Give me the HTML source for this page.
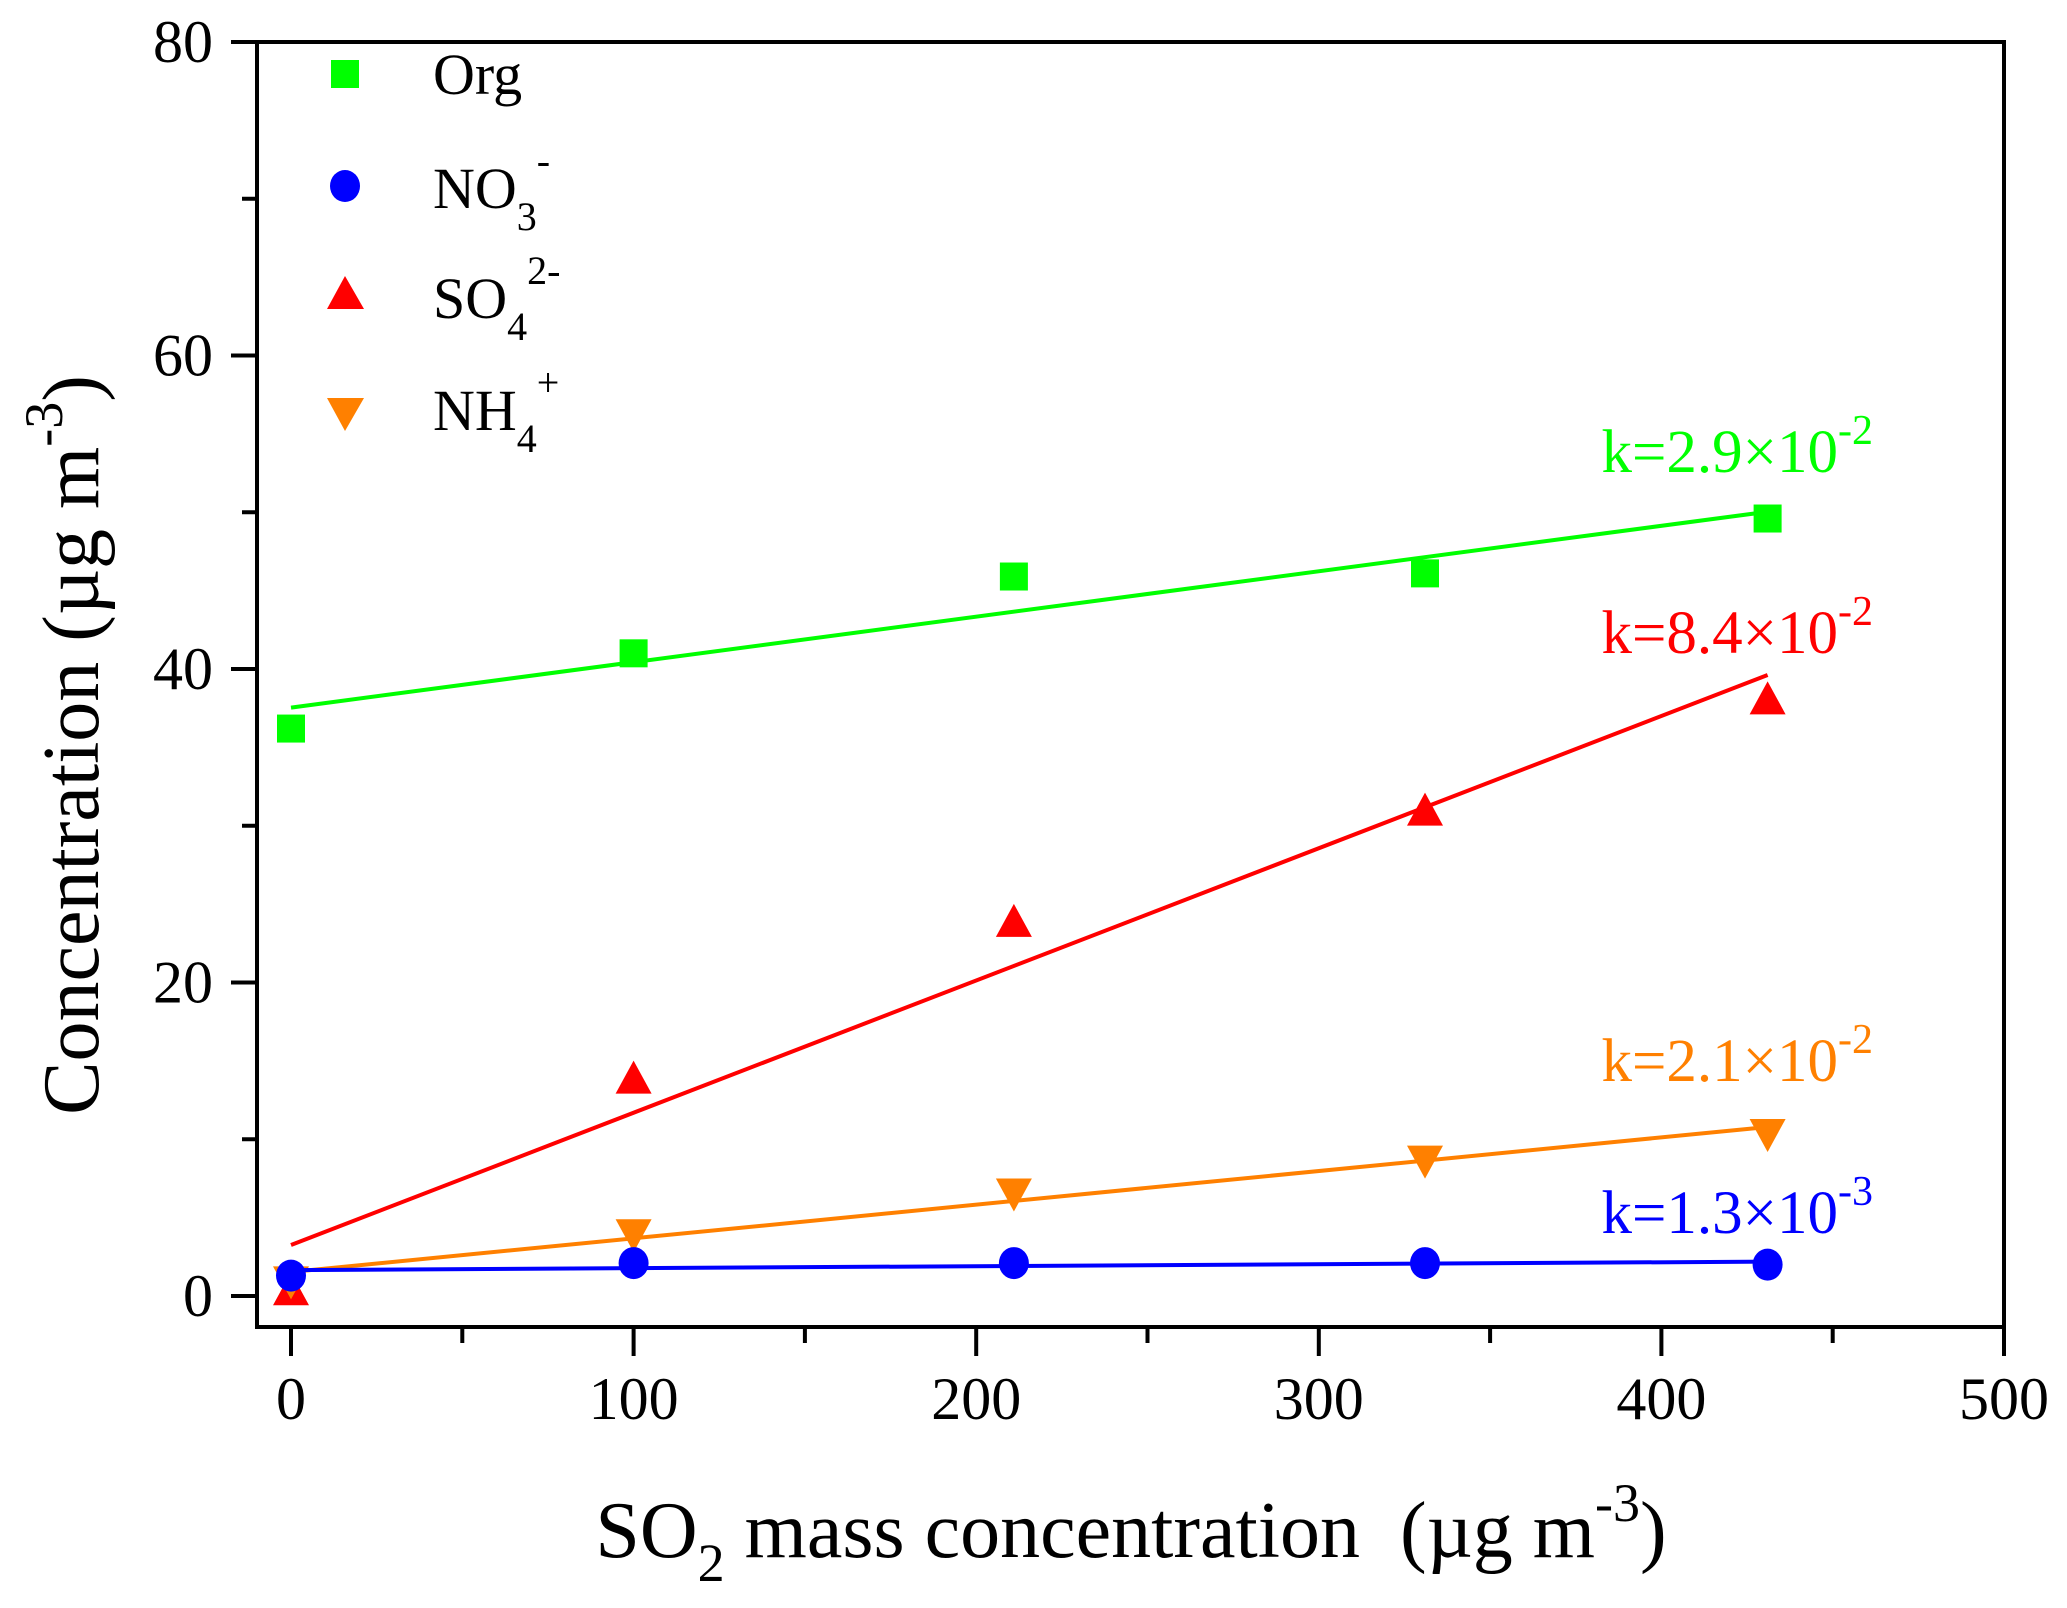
<!DOCTYPE html>
<html><head><meta charset="utf-8"><style>
html,body{margin:0;padding:0;background:#fff;}
svg{display:block;font-family:"Liberation Serif",serif;}
</style></head><body>
<svg id="chart" width="2067" height="1608" viewBox="0 0 2067 1608" xmlns="http://www.w3.org/2000/svg">
<g id="axes"></g>
<g id="series"></g>
<g font-size="58">
  <rect x="331" y="60" width="28" height="28" fill="#00ff00"/>
  <text x="433" y="94">Org</text>
  <ellipse cx="345" cy="186" rx="15" ry="16" fill="#0000ff"/>
  <text x="433" y="208">NO<tspan font-size="40" dy="22">3</tspan><tspan font-size="40" dy="-56">-</tspan></text>
  <polygon points="345,276 327,309 364,309" fill="#ff0000"/>
  <text x="433" y="318">SO<tspan font-size="40" dy="22">4</tspan><tspan font-size="40" dy="-56">2-</tspan></text>
  <polygon points="327,398 364,398 345,431" fill="#ff8000"/>
  <text x="433" y="430">NH<tspan font-size="40" dy="22">4</tspan><tspan font-size="40" dy="-56">+</tspan></text>
</g>
<g font-size="61" text-anchor="end">
  <text x="1873" y="472" fill="#00ff00">k=2.9×10<tspan font-size="42" dy="-28">-2</tspan></text>
  <text x="1873" y="653" fill="#ff0000">k=8.4×10<tspan font-size="42" dy="-28">-2</tspan></text>
  <text x="1873" y="1081" fill="#ff8000">k=2.1×10<tspan font-size="42" dy="-28">-2</tspan></text>
  <text x="1873" y="1233" fill="#0000ff">k=1.3×10<tspan font-size="42" dy="-28">-3</tspan></text>
</g>
<text transform="translate(98,745) rotate(-90)" text-anchor="middle" font-size="80">Concentration (µg m<tspan font-size="54" dy="-36">-3</tspan><tspan dy="36">)</tspan></text>
<text x="1131" y="1557" text-anchor="middle" font-size="80" xml:space="preserve">SO<tspan font-size="54" dy="24">2</tspan><tspan dy="-24"> mass concentration  (µg m</tspan><tspan font-size="54" dy="-36">-3</tspan><tspan dy="36">)</tspan></text>
</svg>
<script>
const xs = [0, 100, 211, 331, 431];
const org = [36.2, 41.0, 45.9, 46.1, 49.6];
const no3 = [1.3, 2.1, 2.1, 2.1, 2.0];
const so4 = [0.3, 13.8, 23.8, 30.9, 38.0];
const nh4 = [1.0, 4.0, 6.6, 8.7, 10.4];
const xTicks = [0, 100, 200, 300, 400, 500];
const yTicks = [0, 20, 40, 60, 80];

const NS = 'http://www.w3.org/2000/svg';
const L = 257, R = 2004, T = 42, B = 1327;
const X = v => 291 + v * 3.426;
const Y = v => 1296 - v * 15.675;
function mk(tag, attrs, parent) {
  const e = document.createElementNS(NS, tag);
  for (const k in attrs) e.setAttribute(k, attrs[k]);
  parent.appendChild(e);
  return e;
}
const axes = document.getElementById('axes');
const ser = document.getElementById('series');
const fr = mk('rect', {x: L, y: T, width: R - L, height: B - T, fill: 'none', stroke: '#000', 'stroke-width': 4}, axes);


for (let v = 0; v <= 500; v += 50) {
  const major = v % 100 === 0;
  const t = mk('line', {x1: X(v), x2: X(v), y1: B, y2: B + (major ? 29 : 16), stroke: '#000', 'stroke-width': 4}, axes);
  
  
}
for (let v = 0; v <= 80; v += 10) {
  const major = v % 20 === 0;
  const t = mk('line', {x1: L, x2: L - (major ? 26 : 15), y1: Y(v), y2: Y(v), stroke: '#000', 'stroke-width': 4}, axes);
  
  
}
xTicks.forEach(v => {
  const t = mk('text', {x: X(v), y: 1419, 'text-anchor': 'middle', 'font-size': 60}, axes);
  t.textContent = v;
  
  
});
yTicks.forEach(v => {
  const t = mk('text', {x: 213, y: Y(v) + 20, 'text-anchor': 'end', 'font-size': 60}, axes);
  t.textContent = v;
  
  
});
function fit(ys) {
  const n = xs.length;
  const mx = xs.reduce((a, b) => a + b) / n, my = ys.reduce((a, b) => a + b) / n;
  let sxy = 0, sxx = 0;
  for (let i = 0; i < n; i++) { sxy += (xs[i] - mx) * (ys[i] - my); sxx += (xs[i] - mx) ** 2; }
  const k = sxy / sxx;
  return [k, my - k * mx];
}
function series(name, ys, color, shape) {
  const [k, b] = fit(ys);
  const ln = mk('line', {x1: X(0), y1: Y(b), x2: X(431), y2: Y(b + k * 431), stroke: color, 'stroke-width': 4}, ser);
  
  
  ys.forEach((v, i) => {
    const cx = X(xs[i]), cy = Y(v);
    let m;
    if (shape === 'square') m = mk('rect', {x: cx - 14, y: cy - 14, width: 28, height: 28, fill: color}, ser);
    else if (shape === 'circle') m = mk('ellipse', {cx: cx, cy: cy, rx: 15, ry: 16, fill: color}, ser);
    else if (shape === 'up') m = mk('polygon', {points: `${cx},${cy - 19} ${cx - 18},${cy + 14} ${cx + 18},${cy + 14}`, fill: color}, ser);
    else m = mk('polygon', {points: `${cx - 18},${cy - 14} ${cx + 18},${cy - 14} ${cx},${cy + 19}`, fill: color}, ser);
    
    
  });
}
series('org', org, '#00ff00', 'square');
series('so4', so4, '#ff0000', 'up');
series('nh4', nh4, '#ff8000', 'down');
series('no3', no3, '#0000ff', 'circle');
</script>
</body></html>
